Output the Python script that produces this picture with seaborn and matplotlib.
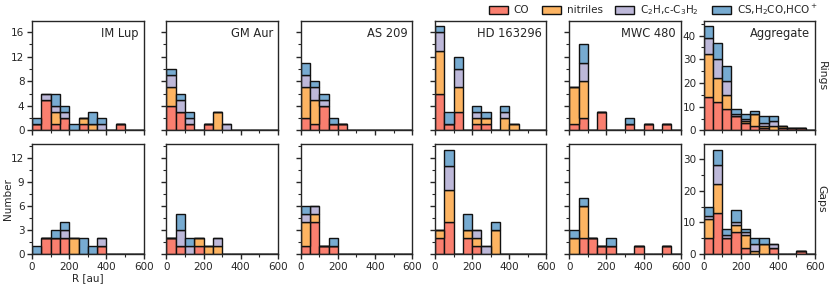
import numpy as np
import pandas as pd
import matplotlib
matplotlib.use("Agg")
import matplotlib.pyplot as plt
from matplotlib.patches import Patch
from matplotlib.ticker import MultipleLocator, AutoMinorLocator
import seaborn as sns

# ---------------- data (counts per 50-au bin: 0-50, 50-100, ..., 550-600) ----------------
disks = ["IM Lup", "GM Aur", "AS 209", "HD 163296", "MWC 480", "Aggregate"]
species = ["CO", "nitriles", r"C$_2$H,c-C$_3$H$_2$", r"CS,H$_2$CO,HCO$^+$"]
colors = ["#fa7f6f", "#fdb462", "#bdb8d9", "#77abd1"]
bin_edges = list(range(0, 601, 50))

rings_co = {
    "IM Lup":    [1, 5, 1, 2, 0, 1, 0, 0, 0, 1, 0, 0],
    "GM Aur":    [4, 3, 1, 0, 1, 0, 0, 0, 0, 0, 0, 0],
    "AS 209":    [2, 1, 4, 1, 1, 0, 0, 0, 0, 0, 0, 0],
    "HD 163296": [6, 1, 3, 0, 1, 1, 0, 0, 0, 0, 0, 0],
    "MWC 480":   [1, 2, 0, 3, 0, 0, 1, 0, 1, 0, 1, 0],
    "Aggregate": [14, 12, 9, 6, 3, 2, 1, 0, 1, 1, 1, 0],
}
rings_nitriles = {
    "IM Lup":    [0, 0, 2, 0, 0, 1, 1, 0, 0, 0, 0, 0],
    "GM Aur":    [3, 0, 0, 0, 0, 3, 0, 0, 0, 0, 0, 0],
    "AS 209":    [5, 4, 0, 0, 0, 0, 0, 0, 0, 0, 0, 0],
    "HD 163296": [7, 0, 4, 0, 1, 1, 0, 2, 1, 0, 0, 0],
    "MWC 480":   [6, 6, 0, 0, 0, 0, 0, 0, 0, 0, 0, 0],
    "Aggregate": [18, 10, 6, 0, 1, 5, 1, 2, 1, 0, 0, 0],
}
rings_c2h = {
    "IM Lup":    [0, 1, 1, 1, 0, 0, 0, 1, 0, 0, 0, 0],
    "GM Aur":    [2, 2, 1, 0, 0, 0, 1, 0, 0, 0, 0, 0],
    "AS 209":    [2, 2, 1, 0, 0, 0, 0, 0, 0, 0, 0, 0],
    "HD 163296": [3, 0, 3, 0, 1, 0, 0, 1, 0, 0, 0, 0],
    "MWC 480":   [0, 3, 0, 0, 0, 0, 0, 0, 0, 0, 0, 0],
    "Aggregate": [7, 8, 6, 1, 1, 0, 1, 2, 0, 0, 0, 0],
}
rings_cs = {
    "IM Lup":    [1, 0, 2, 1, 1, 0, 2, 1, 0, 0, 0, 0],
    "GM Aur":    [1, 1, 1, 0, 0, 0, 0, 0, 0, 0, 0, 0],
    "AS 209":    [2, 1, 1, 1, 0, 0, 0, 0, 0, 0, 0, 0],
    "HD 163296": [1, 2, 2, 0, 1, 1, 0, 1, 0, 0, 0, 0],
    "MWC 480":   [0, 3, 0, 0, 0, 0, 1, 0, 0, 0, 0, 0],
    "Aggregate": [5, 7, 6, 2, 2, 1, 3, 2, 0, 0, 0, 0],
}

gaps_co = {
    "IM Lup":    [0, 2, 2, 2, 0, 0, 0, 1, 0, 0, 0, 0],
    "GM Aur":    [2, 1, 0, 1, 0, 0, 0, 0, 0, 0, 0, 0],
    "AS 209":    [1, 4, 1, 1, 0, 0, 0, 0, 0, 0, 0, 0],
    "HD 163296": [2, 4, 0, 2, 1, 0, 0, 0, 0, 0, 0, 0],
    "MWC 480":   [0, 2, 2, 1, 1, 0, 0, 1, 0, 0, 1, 0],
    "Aggregate": [5, 13, 5, 7, 2, 0, 0, 2, 0, 0, 1, 0],
}
gaps_nitriles = {
    "IM Lup":    [0, 0, 0, 0, 2, 0, 0, 0, 0, 0, 0, 0],
    "GM Aur":    [0, 0, 0, 1, 1, 1, 0, 0, 0, 0, 0, 0],
    "AS 209":    [3, 1, 0, 0, 0, 0, 0, 0, 0, 0, 0, 0],
    "HD 163296": [1, 4, 0, 1, 1, 0, 3, 0, 0, 0, 0, 0],
    "MWC 480":   [2, 4, 0, 0, 0, 0, 0, 0, 0, 0, 0, 0],
    "Aggregate": [6, 9, 0, 2, 4, 1, 3, 0, 0, 0, 0, 0],
}
gaps_c2h = {
    "IM Lup":    [0, 0, 0, 1, 0, 0, 0, 1, 0, 0, 0, 0],
    "GM Aur":    [0, 2, 1, 0, 0, 1, 0, 0, 0, 0, 0, 0],
    "AS 209":    [1, 1, 0, 0, 0, 0, 0, 0, 0, 0, 0, 0],
    "HD 163296": [0, 3, 0, 0, 1, 1, 0, 0, 0, 0, 0, 0],
    "MWC 480":   [0, 0, 0, 0, 0, 0, 0, 0, 0, 0, 0, 0],
    "Aggregate": [1, 6, 1, 1, 1, 2, 0, 1, 0, 0, 0, 0],
}
gaps_cs = {
    "IM Lup":    [1, 0, 1, 1, 0, 2, 1, 0, 0, 0, 0, 0],
    "GM Aur":    [0, 2, 1, 0, 0, 0, 0, 0, 0, 0, 0, 0],
    "AS 209":    [1, 0, 0, 1, 0, 0, 0, 0, 0, 0, 0, 0],
    "HD 163296": [0, 2, 0, 2, 0, 0, 1, 0, 0, 0, 0, 0],
    "MWC 480":   [1, 1, 0, 0, 1, 0, 0, 0, 0, 0, 0, 0],
    "Aggregate": [3, 5, 2, 4, 1, 2, 2, 0, 0, 0, 0, 0],
}

# ---------------- long-form table ----------------
rows = []
bin_centers = [(a + b) / 2 for a, b in zip(bin_edges[:-1], bin_edges[1:])]
for kind, tables in [("Rings", [rings_co, rings_nitriles, rings_c2h, rings_cs]),
                     ("Gaps", [gaps_co, gaps_nitriles, gaps_c2h, gaps_cs])]:
    for sp, tab in zip(species, tables):
        for disk in disks:
            for rc, n in zip(bin_centers, tab[disk]):
                rows.append({"kind": kind, "disk": disk, "species": sp, "R": rc, "count": n})
df = pd.DataFrame(rows)

# ---------------- figure ----------------
sns.set_style("ticks")
plt.rcParams["font.family"] = ["DejaVu Sans"]
plt.rcParams["axes.linewidth"] = 1.0

fig, axes = plt.subplots(2, 6, figsize=(8.3, 2.85), dpi=100)
fig.subplots_adjust(left=0.0386, right=0.982, top=0.927, bottom=0.109,
                    wspace=0.204, hspace=0.128)

palette = dict(zip(species, colors))
for r, kind in enumerate(["Rings", "Gaps"]):
    for c, disk in enumerate(disks):
        ax = axes[r, c]
        sub = df[(df["kind"] == kind) & (df["disk"] == disk)]
        sns.histplot(data=sub, x="R", weights="count", hue="species",
                     hue_order=species[::-1], palette=palette,
                     multiple="stack", bins=bin_edges, edgecolor="#111111",
                     linewidth=1.0, alpha=1.0, legend=False, ax=ax)
        ax.set_xlim(0, 600)
        ax.set_xlabel("")
        ax.set_ylabel("")
        ax.xaxis.set_major_locator(MultipleLocator(200))
        ax.xaxis.set_minor_locator(AutoMinorLocator(2))
        ax.tick_params(which="major", labelsize=7.5, length=3.5, width=1, pad=2)
        ax.tick_params(which="minor", length=2, width=0.8)
        if r == 0:
            ax.tick_params(axis="x", labelbottom=False)
            ax.text(0.955, 0.94, disk, transform=ax.transAxes, ha="right", va="top",
                    fontsize=8.3)
    # shared y for the individual disks
    ymax = max(axes[r, c].get_ylim()[1] for c in range(5))
    for c in range(5):
        ax = axes[r, c]
        ax.set_ylim(0, ymax)
        ax.yaxis.set_major_locator(MultipleLocator(4 if r == 0 else 3))
        ax.yaxis.set_minor_locator(AutoMinorLocator(2))
        if c > 0:
            ax.tick_params(axis="y", labelleft=False)
    axes[r, 5].yaxis.set_major_locator(MultipleLocator(10))
    axes[r, 5].yaxis.set_minor_locator(AutoMinorLocator(2))
    axes[r, 5].text(1.015, 0.5, kind, transform=axes[r, 5].transAxes,
                    rotation=270, ha="left", va="center", fontsize=7.8)

axes[1, 0].set_xlabel("R [au]", fontsize=7.5, labelpad=1)
axes[1, 0].set_ylabel("Number", fontsize=7.5)
axes[1, 0].yaxis.set_label_coords(-0.175, 0.5)

handles = [Patch(facecolor=col, edgecolor="#111111", linewidth=1.0) for col in colors]
fig.legend(handles, species, loc="center right", bbox_to_anchor=(0.985, 0.966),
           ncol=4, frameon=False, fontsize=7.5, handlelength=1.8, handleheight=0.8,
           handletextpad=0.6, columnspacing=1.2, borderaxespad=0, borderpad=0)

fig.savefig("out.png", dpi=100)
